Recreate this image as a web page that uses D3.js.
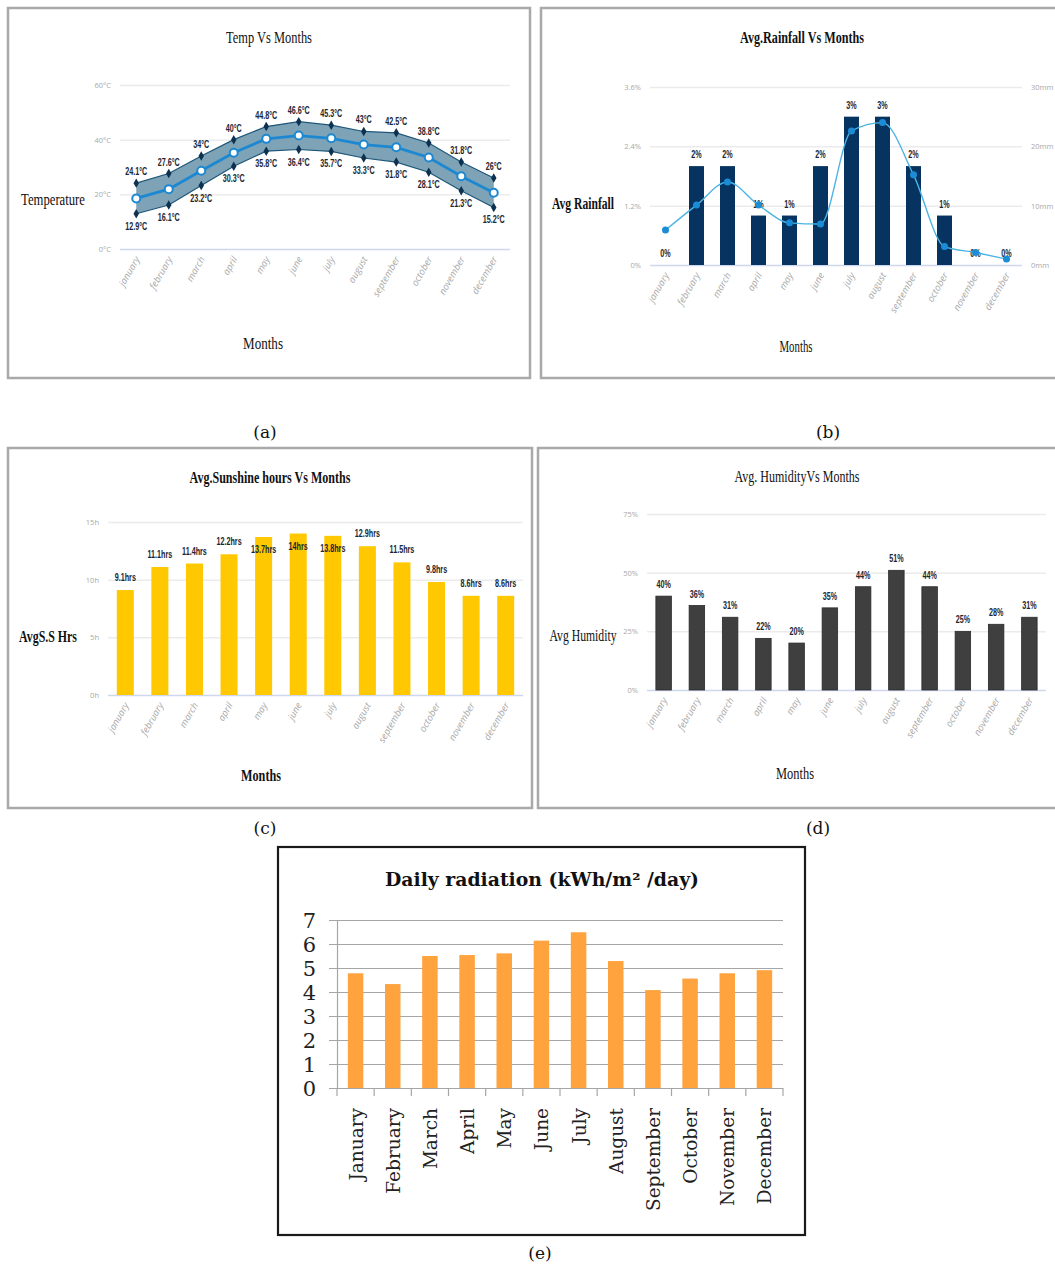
<!DOCTYPE html>
<html>
<head>
<meta charset="utf-8">
<script src="https://cdn.jsdelivr.net/npm/d3@7"></script>
<style>
  html, body { margin: 0; padding: 0; background: #fff; }
  svg { display: block; }
</style>
</head>
<body>
<svg id="fig" width="1055" height="1265"></svg>
<script>
// ---- data -------------------------------------------------------------
const months = ["january","february","march","april","may","june","july","august","september","october","november","december"];
const monthsCap = ["January","February","March","April","May","June","July","August","September","October","November","December"];

// (a) temperature, °C
const tempMax  = [24.1, 27.6, 34, 40, 44.8, 46.6, 45.3, 43, 42.5, 38.8, 31.8, 26];
const tempMin  = [12.9, 16.1, 23.2, 30.3, 35.8, 36.4, 35.7, 33.3, 31.8, 28.1, 21.3, 15.2];
const tempMean = [18.5, 21.9, 28.6, 35.2, 40.3, 41.5, 40.5, 38.2, 37.2, 33.5, 26.6, 20.6];
const tempTicks = [0, 20, 40, 60];

// (b) rainfall: share (%) as bars, depth (mm) as line
const rainPct = [0, 2, 2, 1, 1, 2, 3, 3, 2, 1, 0, 0];
const rainMm  = [5.9, 10.1, 14.0, 10.1, 7.1, 6.9, 22.6, 24.0, 15.2, 3.1, 2.1, 1.0];
const rainPctTicks = [0, 1.2, 2.4, 3.6];
const rainMmTicks  = [0, 10, 20, 30];

// (c) sunshine hours
const sunHours = [9.1, 11.1, 11.4, 12.2, 13.7, 14, 13.8, 12.9, 11.5, 9.8, 8.6, 8.6];
const sunTicks = [0, 5, 10, 15];

// (d) humidity, %
const humidity = [40, 36, 31, 22, 20, 35, 44, 51, 44, 25, 28, 31];
const humTicks = [0, 25, 50, 75];

// (e) daily radiation, kWh/m²/day
const radiation = [4.78, 4.33, 5.5, 5.54, 5.61, 6.14, 6.49, 5.29, 4.08, 4.56, 4.78, 4.91];
const radTicks = [0, 1, 2, 3, 4, 5, 6, 7];

// ---- shared styles -----------------------------------------------------
const svg = d3.select("#fig");
const serifNarrow = "'Liberation Serif', 'Times New Roman', serif";
const tickFont = "'Open Sans', 'DejaVu Sans', sans-serif";
const valFont = "'Liberation Sans', Arial, sans-serif";
const bookFont = "'DejaVu Serif', serif";

function frame(x, y, w, h, stroke, sw) {
  svg.append("rect").attr("x", x).attr("y", y).attr("width", w).attr("height", h)
    .attr("fill", "#fff").attr("stroke", stroke).attr("stroke-width", sw);
}

// condensed serif heading squeezed horizontally to a target width
function label(txt, x, y, size, len, weight) {
  const t = svg.append("text").attr("text-anchor", "middle").attr("font-family", serifNarrow)
    .attr("font-size", size).attr("font-weight", weight || "normal")
    .attr("fill", "#111").text(txt);
  const natural = t.node().getComputedTextLength() || len;
  const sx = len ? len / natural : 1;
  t.attr("transform", `translate(${x},${y}) scale(${sx},1)`);
  return t;
}

function caption(txt, x, y) {
  svg.append("text").attr("x", x).attr("y", y).attr("text-anchor", "middle")
    .attr("font-family", bookFont).attr("font-size", 17).attr("fill", "#111").text(txt);
}

// horizontal grid + tick labels drawn through a d3 axis
function grid(g, y, ticks, x0, x1, fmt, side) {
  const axis = (side === "right" ? d3.axisRight(y) : d3.axisLeft(y))
    .tickValues(ticks).tickFormat(fmt)
    .tickSize(side === "right" ? 0 : -(x1 - x0)).tickPadding(side === "right" ? 0 : 9);
  const a = g.append("g").attr("transform", `translate(${side === "right" ? x1 + 9 : x0},0)`).call(axis);
  a.select(".domain").remove();
  a.selectAll(".tick line").attr("stroke", d => d === 0 ? "#cdd8ee" : "#ebebeb").attr("stroke-width", 1.5);
  a.selectAll(".tick text").attr("font-family", tickFont).attr("font-size", 7.5)
    .attr("fill", "#a8a8a8");
  return a;
}

function monthLabels(g, x, base) {
  g.append("g").selectAll("text").data(months).join("text")
    .attr("transform", d => `translate(${x(d) + 4},${base + 10}) rotate(-60)`)
    .attr("text-anchor", "end").attr("font-family", tickFont).attr("font-style", "italic")
    .attr("font-size", 9.5).attr("fill", "#a9a9a9").text(d => d);
}

// condensed bold value labels
function valueLabels(g, data, xf, yf, fmt) {
  g.append("g").selectAll("text").data(data).join("text")
    .attr("transform", (d, i) => `translate(${xf(d, i)},${yf(d, i)}) scale(0.72,1)`)
    .attr("text-anchor", "middle").attr("font-family", valFont).attr("font-weight", "bold")
    .attr("font-size", 10).attr("fill", "#1b2633").text(fmt);
}

// ---- (a) Temp Vs Months ------------------------------------------------
(function () {
  frame(8, 8, 522, 370, "#a9a9a9", 2.5);
  const g = svg.append("g");
  const x = d3.scaleBand().domain(months).range([120, 510]);
  const cx = d => x(d) + x.bandwidth() / 2;
  const y = d3.scaleLinear().domain([0, 60]).range([249, 85]);
  grid(g, y, tempTicks, 120, 510, d => d + "\u00B0C");

  const area = d3.area().x((d, i) => cx(months[i])).y0((d, i) => y(tempMin[i])).y1(d => y(d));
  g.append("path").datum(tempMax).attr("d", area).attr("fill", "#7ea3b6");
  const line = d3.line().x((d, i) => cx(months[i])).y(d => y(d));
  [tempMax, tempMin].forEach(s => g.append("path").datum(s).attr("d", line)
    .attr("fill", "none").attr("stroke", "#1d5678").attr("stroke-width", 1.2));
  const diamond = d3.symbol().type(d3.symbolDiamond).size(26);
  [tempMax, tempMin].forEach(s => g.append("g").selectAll("path").data(s).join("path")
    .attr("d", diamond).attr("fill", "#0d3150")
    .attr("transform", (d, i) => `translate(${cx(months[i])},${y(d)})`));
  g.append("path").datum(tempMean).attr("d", line).attr("fill", "none")
    .attr("stroke", "#1c88d2").attr("stroke-width", 2.8);
  g.append("g").selectAll("circle").data(tempMean).join("circle")
    .attr("cx", (d, i) => cx(months[i])).attr("cy", d => y(d)).attr("r", 4)
    .attr("fill", "#fff").attr("stroke", "#1c88d2").attr("stroke-width", 2);

  valueLabels(g, tempMax, (d, i) => cx(months[i]), d => y(d) - 8, d => d + "\u00B0C");
  valueLabels(g, tempMin, (d, i) => cx(months[i]), d => y(d) + 16, d => d + "\u00B0C");
  monthLabels(g, cx, 249);

  label("Temp Vs Months", 269, 43, 17, 86);
  label("Temperature", 53, 205, 17, 64);
  label("Months", 263, 349, 17, 40);
  caption("(a)", 265, 438);
})();

// ---- (b) Avg.Rainfall Vs Months ----------------------------------------
(function () {
  frame(541, 8, 530, 370, "#a9a9a9", 2.5);
  const g = svg.append("g");
  const x = d3.scaleBand().domain(months).range([650, 1022]);
  const cx = d => x(d) + x.bandwidth() / 2;
  const yL = d3.scaleLinear().domain([0, 3.6]).range([265, 87]);
  const yR = d3.scaleLinear().domain([0, 30]).range([265, 87]);
  grid(g, yL, rainPctTicks, 650, 1022, d => d + "%");
  grid(g, yR, rainMmTicks, 650, 1022, d => d + "mm", "right");

  const bw = 15;
  g.append("g").selectAll("rect").data(rainPct).join("rect")
    .attr("x", (d, i) => cx(months[i]) - bw / 2).attr("width", bw)
    .attr("y", d => yL(d)).attr("height", d => yL(0) - yL(d)).attr("fill", "#06335f");
  valueLabels(g, rainPct, (d, i) => cx(months[i]), d => yL(d) - 8, d => d + "%");

  const line = d3.line().curve(d3.curveMonotoneX).x((d, i) => cx(months[i])).y(d => yR(d));
  g.append("path").datum(rainMm).attr("d", line).attr("fill", "none")
    .attr("stroke", "#4bb4e4").attr("stroke-width", 1.4);
  g.append("g").selectAll("circle").data(rainMm).join("circle")
    .attr("cx", (d, i) => cx(months[i])).attr("cy", d => yR(d)).attr("r", 3.5)
    .attr("fill", "#1b8cd6");
  monthLabels(g, cx, 265);

  label("Avg.Rainfall Vs Months", 802, 43, 17, 124, "bold");
  label("Avg Rainfall", 583, 209, 17, 62, "bold");
  label("Months", 796, 352, 16, 33);
  caption("(b)", 828, 438);
})();

// ---- (c) Avg.Sunshine hours Vs Months ----------------------------------
(function () {
  frame(8, 448, 524, 360, "#a9a9a9", 2.5);
  const g = svg.append("g");
  const x = d3.scaleBand().domain(months).range([108, 523]);
  const cx = d => x(d) + x.bandwidth() / 2;
  const y = d3.scaleLinear().domain([0, 15]).range([695, 522]);
  grid(g, y, sunTicks, 108, 523, d => d + "h");

  const bw = 17;
  g.append("g").selectAll("rect").data(sunHours).join("rect")
    .attr("x", (d, i) => cx(months[i]) - bw / 2).attr("width", bw)
    .attr("y", d => y(d)).attr("height", d => y(0) - y(d)).attr("fill", "#ffc800");
  // the tallest bars carry their label just inside the top
  valueLabels(g, sunHours, (d, i) => cx(months[i]), d => d >= 13.5 ? y(d) + 16 : y(d) - 9, d => d + "hrs");
  monthLabels(g, cx, 695);

  label("Avg.Sunshine hours Vs Months", 270, 483, 17, 161, "bold");
  label("AvgS.S Hrs", 48, 642, 17, 58, "bold");
  label("Months", 261, 781, 17, 40, "bold");
  caption("(c)", 265, 834);
})();

// ---- (d) Avg. Humidity Vs Months ---------------------------------------
(function () {
  frame(538, 448, 530, 360, "#a9a9a9", 2.5);
  const g = svg.append("g");
  const x = d3.scaleBand().domain(months).range([647, 1046]);
  const cx = d => x(d) + x.bandwidth() / 2;
  const y = d3.scaleLinear().domain([0, 75]).range([690, 514]);
  grid(g, y, humTicks, 647, 1046, d => d + "%");

  const bw = 15.5;
  g.append("g").selectAll("rect").data(humidity).join("rect")
    .attr("x", (d, i) => cx(months[i]) - bw / 2).attr("width", bw)
    .attr("y", d => y(d)).attr("height", d => y(0) - y(d))
    .attr("fill", "#3f3f3f").attr("stroke", "#2a2a2a").attr("stroke-width", 0.8);
  valueLabels(g, humidity, (d, i) => cx(months[i]), d => y(d) - 8, d => d + "%");
  monthLabels(g, cx, 690);

  label("Avg. HumidityVs Months", 797, 482, 17, 125);
  label("Avg Humidity", 583, 641, 17, 67);
  label("Months", 795, 779, 17, 38);
  caption("(d)", 818, 834);
})();

// ---- (e) Daily radiation -----------------------------------------------
(function () {
  frame(278, 847, 527, 388, "#1a1a1a", 2.2);
  const g = svg.append("g");
  const x = d3.scaleBand().domain(monthsCap).range([337, 783]);
  const cx = d => x(d) + x.bandwidth() / 2;
  const y = d3.scaleLinear().domain([0, 7]).range([1088, 920]);

  const ax = g.append("g").attr("transform", "translate(337,0)")
    .call(d3.axisLeft(y).tickValues(radTicks).tickFormat(d3.format("d"))
      .tickSizeInner(-(783 - 337)).tickSizeOuter(0).tickPadding(21));
  ax.selectAll(".tick line").attr("x1", -8).attr("stroke", "#a6a6a6").attr("stroke-width", 1.2);
  ax.select(".domain").attr("stroke", "#a6a6a6").attr("stroke-width", 1.2);
  ax.selectAll(".tick text").attr("font-family", bookFont).attr("font-size", 21)
    .attr("fill", "#222").attr("dy", "0.36em");

  // category tick marks under the baseline
  const edges = monthsCap.map(m => x(m)).concat([783]);
  g.append("g").selectAll("line").data(edges).join("line")
    .attr("x1", d => d).attr("x2", d => d).attr("y1", 1088).attr("y2", 1096)
    .attr("stroke", "#a6a6a6").attr("stroke-width", 1.2);

  const bw = 15.5;
  g.append("g").selectAll("rect").data(radiation).join("rect")
    .attr("x", (d, i) => cx(monthsCap[i]) - bw / 2).attr("width", bw)
    .attr("y", d => y(d)).attr("height", d => y(0) - y(d)).attr("fill", "#ffa33f");

  g.append("g").selectAll("text").data(monthsCap).join("text")
    .attr("transform", d => `translate(${cx(d) + 7},1108) rotate(-90)`)
    .attr("text-anchor", "end").attr("font-family", bookFont).attr("font-size", 18.5)
    .attr("fill", "#222").text(d => d);

  svg.append("text").attr("x", 542).attr("y", 886).attr("text-anchor", "middle")
    .attr("font-family", bookFont).attr("font-weight", "bold").attr("font-size", 18)
    .attr("fill", "#111").attr("textLength", 314).attr("lengthAdjust", "spacingAndGlyphs")
    .text("Daily radiation (kWh/m\u00B2 /day)");
  caption("(e)", 540, 1259);
})();
</script>
</body>
</html>
